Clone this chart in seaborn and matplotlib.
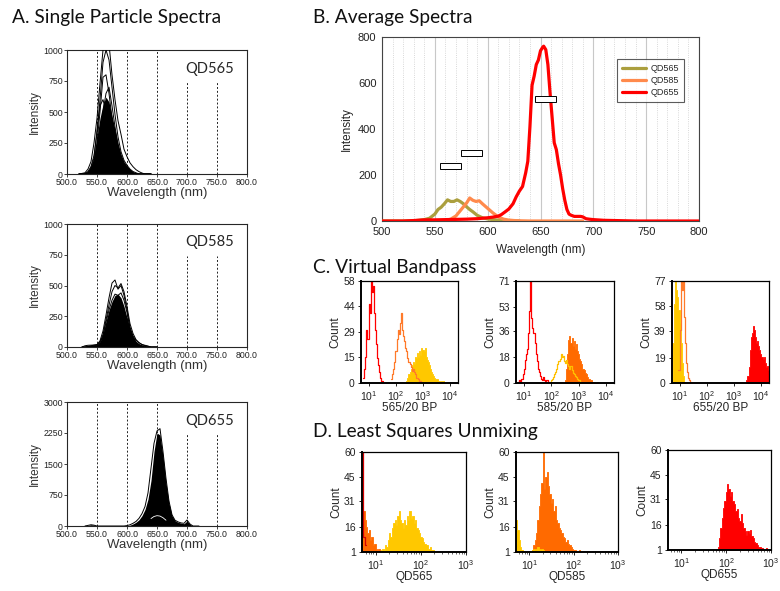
import numpy as np
import matplotlib
matplotlib.use("Agg")
import matplotlib.pyplot as plt
from matplotlib.patches import Rectangle
from matplotlib.ticker import FormatStrFormatter
import seaborn as sns

# ---------------- A. single particle spectra ----------------
wl_a565 = list(range(520, 645, 5))
a565_dense = [0, 3, 8, 20, 60, 140, 300, 450, 560, 620, 580, 470, 360, 250, 160,
              100, 65, 40, 20, 10, 4, 0, 0, 0, 0]
a565_traces = [
    [0, 5, 10, 40, 100, 250, 450, 730, 1000, 1100, 1050, 800, 600, 430, 320, 200, 140, 90, 59, 35, 19, 8, 0, 0, 0],
    [0, 0, 5, 20, 60, 150, 330, 600, 900, 1000, 920, 700, 480, 300, 180, 110, 70, 40, 20, 10, 0, 0, 0, 0, 0],
    [0, 0, 0, 10, 40, 100, 250, 500, 780, 800, 650, 450, 300, 180, 100, 60, 30, 15, 5, 0, 0, 0, 0, 0, 0],
    [0, 0, 0, 5, 30, 70, 150, 300, 500, 650, 700, 550, 380, 230, 140, 80, 40, 20, 5, 0, 0, 0, 0, 0, 0],
    [0, 0, 0, 10, 50, 130, 350, 550, 600, 500, 450, 320, 220, 150, 90, 50, 25, 10, 3, 0, 0, 0, 0, 0, 0],
]

wl_a585 = list(range(525, 655, 5))
a585_dense = [0, 8, 12, 14, 15, 20, 40, 110, 210, 300, 370, 420, 430, 400, 330,
              240, 150, 85, 45, 25, 15, 8, 4, 0, 0, 0]
a585_traces = [
    [0, 10, 14, 15, 16, 20, 50, 130, 260, 400, 520, 545, 470, 500, 420, 300, 160, 90, 55, 35, 20, 14, 8, 0, 0, 0],
    [0, 0, 5, 10, 15, 18, 40, 100, 220, 340, 450, 500, 480, 516, 450, 330, 190, 110, 60, 35, 20, 10, 5, 0, 0, 0],
    [0, 0, 0, 5, 10, 15, 30, 90, 200, 300, 380, 430, 420, 440, 380, 280, 150, 80, 40, 20, 10, 5, 0, 0, 0, 0],
]

wl_a655 = list(range(530, 725, 5))
a655_dense = [0, 15, 30, 20, 0, 0, 0, 0, 0, 0, 0, 0, 0, 0, 5, 20, 50, 90, 150, 250,
              400, 650, 1100, 1800, 2250, 2200, 1700, 1050, 550, 250, 130, 90, 70, 55,
              120, 40, 0, 0, 0]
a655_traces = [
    [0, 15, 30, 20, 0, 0, 0, 0, 0, 0, 0, 0, 0, 0, 10, 30, 65, 110, 185, 300, 470, 800,
     1400, 2000, 2300, 2355, 1800, 1150, 600, 270, 140, 100, 75, 65, 145, 48, 0, 0, 0],
]
wl_a655_inner = [640, 645, 650, 655, 660, 665]
a655_inner = [180, 230, 250, 240, 200, 140]

a_labels = ["QD565", "QD585", "QD655"]
a_ymax = [1000, 1000, 3000]
a_yticks = [[0, 250, 500, 750, 1000], [0, 250, 500, 750, 1000], [0, 750, 1500, 2250, 3000]]
a_ref_full = [550, 600, 650]
a_ref_short = [700, 750]

# ---------------- B. average spectra ----------------
wl_b565 = [500, 520, 530, 535, 540, 545, 550, 553, 556, 559, 562, 565, 568, 571, 574,
           577, 580, 583, 586, 590, 595, 600, 605, 610, 615, 620, 630]
b565 = [0, 0, 1, 3, 6, 12, 30, 50, 60, 75, 92, 85, 85, 92, 85, 75, 62, 50, 40, 25,
        14, 9, 6, 4, 2, 1, 0]
wl_b585 = [555, 560, 565, 570, 575, 580, 583, 586, 589, 592, 595, 600, 605, 610, 615,
           620, 625, 630, 640, 660, 690]
b585 = [0, 2, 8, 22, 50, 78, 100, 90, 85, 88, 75, 55, 35, 18, 8, 4, 2, 1, 0, 0, 0]
wl_b655 = [500, 520, 530, 540, 550, 560, 570, 580, 590, 595, 600, 605, 610, 613, 616,
           620, 624, 627, 630, 633, 636, 638, 640, 642, 644, 646, 648, 650, 652, 653,
           655, 657, 659, 661, 663, 665, 667, 669, 671, 673, 675, 677, 679, 682, 685,
           688, 690, 693, 696, 700, 710, 720, 740, 800]
b655 = [0, 0, 2, 5, 5, 6, 7, 8, 10, 12, 14, 17, 21, 28, 38, 52, 75, 105, 130, 150,
        210, 260, 410, 590, 630, 680, 700, 740, 755, 760, 745, 680, 560, 450, 340, 310,
        250, 200, 140, 90, 50, 30, 25, 20, 20, 20, 18, 10, 8, 6, 3, 2, 0, 0]
b_names = ["QD565", "QD585", "QD655"]
b_colors = ["#ab9f3e", "#ff8a4c", "#ff0000"]
band_centers = [565, 585, 655]
band_levels = [238, 296, 530]

# ---------------- C / D. histograms (log10 start of first bin, counts) ----------------
YEL, ORA, RED = "#ffc800", "#ff6a00", "#ff0000"
c_width = 0.04
c1 = [  # (start, counts, color, filled)
    (2.38, [1, 3, 5, 6, 8, 10, 12, 11, 15, 14, 17, 15, 18, 16, 20, 19, 18, 20, 15, 13,
            12, 10, 8, 6, 5, 4, 3, 2, 2, 1, 1, 0, 1, 0, 1], YEL, True),
    (1.82, [2, 5, 8, 12, 18, 25, 30, 28, 34, 40, 30, 27, 24, 20, 18, 14, 12, 11, 9, 7,
            8, 6, 5, 3, 3, 2, 1, 1], "#ff7a2a", False),
    (0.78, [3, 8, 15, 30, 25, 45, 40, 58, 52, 55, 40, 30, 22, 14, 10, 6, 3, 1], RED, False),
]
c2 = [
    (2.50, [2, 10, 20, 30, 33, 28, 31, 26, 29, 24, 27, 22, 20, 17, 15, 13, 10, 9, 7, 6,
            4, 3, 3, 2, 2, 1, 1, 1, 0, 1], ORA, True),
    (1.94, [1, 2, 3, 4, 6, 8, 10, 13, 15, 17, 20, 18, 19, 15, 14, 16, 13, 12, 10, 12,
            9, 7, 6, 5, 4, 3, 2, 2, 1], "#ffc000", False),
    (0.78, [1, 2, 1, 3, 6, 10, 16, 20, 24, 35, 50, 71, 45, 38, 35, 28, 20, 15, 10, 8,
            5, 3, 2, 4, 2, 1, 2, 1], RED, False),
]
c3 = [
    (0.74, [30, 60, 77, 70, 65, 55, 45, 30, 15, 5, 1], YEL, True),
    (0.94, [10, 40, 77, 70, 77, 50, 30, 15, 8, 4, 2, 1], "#ff7a2a", False),
    (3.46, [2, 5, 12, 25, 35, 38, 43, 40, 35, 30, 32, 28, 25, 22, 20, 18, 20, 15, 12,
            13, 10, 8], RED, True),
]
c_yticks = [[0, 15, 29, 44, 58], [0, 18, 36, 53, 71], [0, 19, 39, 58, 77]]
c_xlabels = ["565/20 BP", "585/20 BP", "655/20 BP"]

d_width = 0.03
d1 = [
    (1.06, [1, 2, 1, 3, 2, 5, 4, 8, 12, 10, 15, 18, 20, 17, 22, 25, 20, 18, 15, 20, 17,
            22, 20, 25, 21, 22, 18, 20, 15, 14, 12, 10, 9, 7, 6, 5, 5, 3, 4, 2, 2, 1,
            1, 1, 1], YEL, True),
    (0.70, [31, 25, 20, 16, 12, 14, 8, 10, 5, 6, 3, 2, 3, 1], ORA, True),
    (0.70, [60, 10, 5], "#d40000", False),
]
d2 = [
    (1.03, [1, 2, 5, 8, 12, 20, 28, 35, 42, 60, 38, 45, 48, 40, 35, 30, 32, 25, 28, 20,
            18, 15, 14, 12, 10, 9, 7, 8, 6, 5, 4, 3, 2, 2, 1, 1, 2, 1], ORA, True),
    (0.70, [20, 14, 8, 4, 2, 1, 1, 1, 1, 1, 1, 1, 2, 3, 2, 3, 4, 3, 2, 3, 2, 1, 1, 1,
            1, 1], YEL, True),
]
d3 = [
    (1.78, [1, 3, 8, 14, 20, 26, 30, 35, 40, 37, 33, 35, 30, 28, 24, 25, 20, 18, 22, 17,
            14, 12, 10, 12, 11, 13, 9, 8, 6, 5, 4, 3, 3, 2, 2, 1, 1, 2, 1, 1], RED, True),
]
d_yticks = [1, 16, 31, 45, 60]
d_xlabels = ["QD565", "QD585", "QD655"]

# ---------------- figure ----------------
sns.set_style("ticks")
plt.rcParams["font.family"] = ["Liberation Sans", "DejaVu Sans"]
plt.rcParams["mathtext.default"] = "regular"

W, H = 780, 591
fig = plt.figure(figsize=(7.8, 5.91), dpi=100)


def px_axes(x0, y0, x1, y1):
    return fig.add_axes([x0 / W, 1 - y1 / H, (x1 - x0) / W, (y1 - y0) / H])


def title(x, y, s):
    fig.text(x / W, 1 - y / H, s, fontsize=13.8, family=["Lato", "DejaVu Sans"],
             va="center", ha="left", color="#111111")


title(12, 17, "A. Single Particle Spectra")
title(313, 17, "B. Average Spectra")
title(313, 268, "C. Virtual Bandpass")
title(313, 432, "D. Least Squares Unmixing")

# --- A panels
a_boxes = [(67, 50, 247, 174), (67, 224, 247, 347), (67, 402, 247, 526)]
a_data = [(wl_a565, a565_dense, a565_traces), (wl_a585, a585_dense, a585_traces),
          (wl_a655, a655_dense, a655_traces)]
for i, (box, (wl, dense, traces)) in enumerate(zip(a_boxes, a_data)):
    ax = px_axes(*box)
    for x in a_ref_full:
        ax.axvline(x, ls=(0, (2, 2)), color="#222222", lw=0.7, zorder=1)
    for x in a_ref_short:
        ax.axvline(x, ymax=0.74, ls=(0, (2, 2)), color="#222222", lw=0.7, zorder=1)
    ax.fill_between(wl, 0, dense, color="black", lw=0, zorder=2)
    for tr in traces:
        sns.lineplot(x=wl, y=tr, color="black", lw=0.7, ax=ax, zorder=3)
    if i == 2:
        sns.lineplot(x=wl_a655_inner, y=a655_inner, color="white", lw=0.6, ax=ax, zorder=4)
    ax.set_xlim(500, 800)
    ax.set_ylim(0, a_ymax[i])
    ax.set_xticks(range(500, 801, 50))
    ax.xaxis.set_major_formatter(FormatStrFormatter("%.1f"))
    ax.set_yticks(a_yticks[i])
    ax.tick_params(labelsize=6.3, length=2, width=0.6, colors="#222222", pad=1)
    ax.set_xlabel("Wavelength (nm)", fontsize=9.5, labelpad=0, color="#333333")
    ax.set_ylabel("Intensity", fontsize=8.5, labelpad=2, color="#333333")
    for sp in ax.spines.values():
        sp.set_linewidth(0.8)
    ax.text(0.79, 0.85, a_labels[i], transform=ax.transAxes, fontsize=10.5,
            family=["Lato", "DejaVu Sans"], ha="center", va="center")

# --- B panel
axb = px_axes(382, 37, 699, 221)
for wl, vals, name, col in zip([wl_b565, wl_b585, wl_b655], [b565, b585, b655],
                               b_names, b_colors):
    sns.lineplot(x=wl, y=vals, color=col, lw=2.3, label=name, ax=axb, zorder=3)
for c, lev in zip(band_centers, band_levels):
    axb.add_patch(Rectangle((c - 10, lev - 14), 20, 28, facecolor="white",
                            edgecolor="black", lw=0.7, zorder=5))
axb.set_xlim(500, 800)
axb.set_ylim(0, 800)
axb.set_xticks(range(500, 801, 50))
axb.set_xticks(range(500, 801, 10), minor=True)
axb.set_yticks(range(0, 801, 200))
axb.grid(which="major", axis="x", color="#c8c8c8", lw=0.8)
axb.grid(which="minor", axis="x", color="#cccccc", lw=0.6, ls=":")
axb.tick_params(which="both", length=0, labelsize=8, colors="#222222", pad=4)
axb.set_xlabel("Wavelength (nm)", fontsize=8.5, labelpad=5)
axb.set_ylabel("Intensity", fontsize=8.5, labelpad=4)
for sp in axb.spines.values():
    sp.set_linewidth(0.8)
    sp.set_color("#444444")
leg = axb.legend(loc="upper right", bbox_to_anchor=(0.968, 0.905), fontsize=6.5,
                 frameon=True, fancybox=False, edgecolor="#333333", handlelength=2.6,
                 borderpad=0.6, labelspacing=0.3, handletextpad=0.5)
leg.get_frame().set_linewidth(0.8)
for line in leg.get_lines():
    line.set_linewidth(2.3)


def draw_hist(ax, layers, width):
    for start, counts, col, filled in layers:
        centers = [start + width * (k + 0.5) for k in range(len(counts))]
        sns.histplot(x=np.power(10, centers), weights=counts, binwidth=width,
                     binrange=(start, start + width * len(counts)), log_scale=True,
                     element="step", fill=filled, color=col, alpha=1,
                     linewidth=0.6 if filled else 0.9, ax=ax)


def style_hist(ax, xlim, xticks, yticks, xlabel):
    ax.set_xlim(*xlim)
    ax.set_ylim(yticks[0], yticks[-1])
    ax.set_xticks(xticks)
    ax.set_xticklabels([f"$10^{{{int(np.log10(t))}}}$" for t in xticks])
    ax.set_yticks(yticks)
    ax.set_yticklabels([str(t) for t in yticks])
    ax.tick_params(which="major", labelsize=7.5, length=2.5, width=0.7, pad=2,
                   colors="#222222")
    ax.tick_params(which="minor", length=1.5, width=0.5)
    ax.set_ylabel("Count", fontsize=8.5, labelpad=1)
    ax.set_xlabel(xlabel, fontsize=8.5, labelpad=-1)
    for sp in ax.spines.values():
        sp.set_linewidth(0.9)
        sp.set_color("black")
    ax.spines["left"].set_linewidth(1.4)
    ax.spines["bottom"].set_linewidth(1.4)


c_boxes = [(361, 281, 458, 383), (516, 281, 614, 383), (672, 281, 769, 383)]
for box, layers, yt, xl in zip(c_boxes, [c1, c2, c3], c_yticks, c_xlabels):
    ax = px_axes(*box)
    draw_hist(ax, layers, c_width)
    style_hist(ax, (10 ** 0.7, 10 ** 4.3), [10, 100, 1000, 10000], yt, xl)

d_boxes = [(362, 452, 466, 552), (516, 452, 618, 552), (668, 450, 771, 550)]
for box, layers, xl in zip(d_boxes, [d1, d2, d3], d_xlabels):
    ax = px_axes(*box)
    draw_hist(ax, layers, d_width)
    style_hist(ax, (10 ** 0.7, 10 ** 3.0), [10, 100, 1000], d_yticks, xl)

fig.savefig("out.png", dpi=100)
